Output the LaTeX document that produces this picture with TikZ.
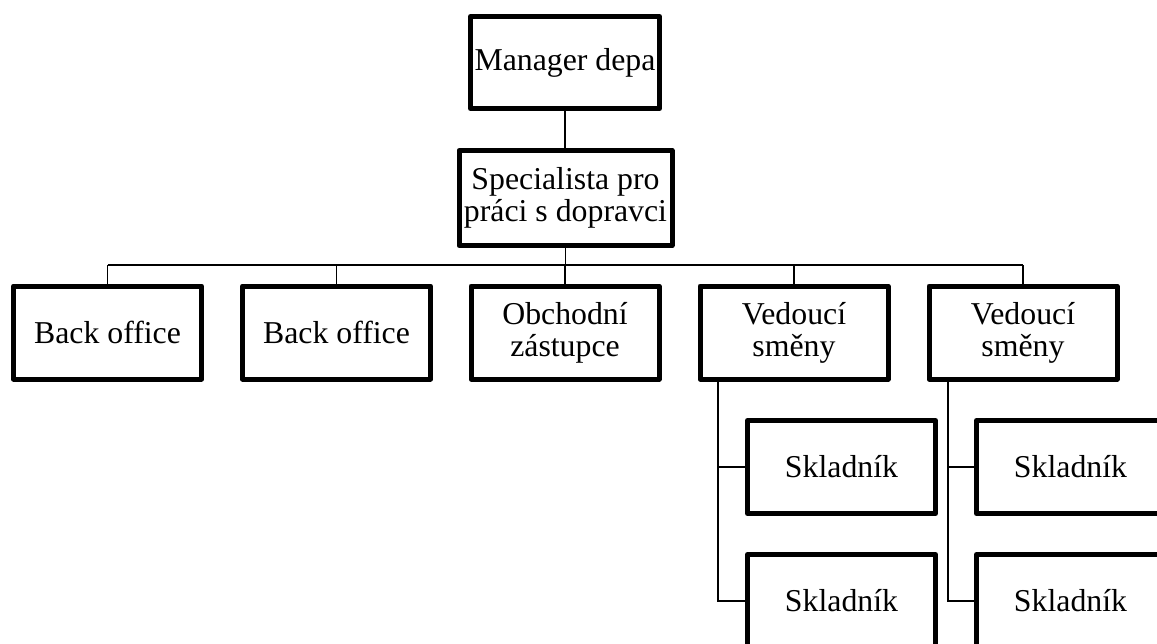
\documentclass[tikz,border=0pt]{standalone}
\usepackage{fontspec}
\setmainfont{Liberation Serif}
\begin{document}
\begin{tikzpicture}[x=1pt,y=-1pt,
  box/.style={draw=black, line width=5pt, line join=round, fill=white,
    minimum width=188pt, minimum height=93pt, inner sep=0pt, align=center,
    font=\fontsize{31.8}{32}\selectfont},
  link/.style={draw=black, line width=1.5pt}]
\useasboundingbox (0,0) rectangle (1157,643);
\clip (0,0) rectangle (1157,643);

% top of the chart
\node[box, minimum width=189pt, minimum height=92pt] (mgr) at (565,62.5) {Manager depa};
\node[box, minimum width=213pt, minimum height=95pt] (spec) at (565.5,198) {Specialista pro\\práci s dopravci};

% second level
\node[box] (back1) at (107.5,332.5) {Back office};
\node[box] (back2) at (336.5,332.5) {Back office};
\node[box] (obch)  at (565,332.5)   {Obchodní\\zástupce};
\node[box] (ved1)  at (794,332.5)   {Vedoucí\\směny};
\node[box] (ved2)  at (1023,332.5)  {Vedoucí\\směny};

% warehouse staff under each shift leader
\node[box] (s11) at (841.5,467)  {Skladník};
\node[box] (s12) at (841.5,601)  {Skladník};
\node[box] (s21) at (1070.5,467) {Skladník};
\node[box] (s22) at (1070.5,601) {Skladník};

% connectors
\coordinate (bus) at (0,265);
\coordinate (t1) at (718,0);
\coordinate (t2) at (948,0);

\draw[link] (mgr.south) -- (mgr.south |- spec.north);
\draw[link] (spec.south) -- (spec.south |- bus);
\draw[link] (back1.north |- bus) -- (ved2.north |- bus);
\foreach \n in {back1,back2,obch,ved1,ved2}
  \draw[link] (\n.north |- bus) -- (\n.north);

\draw[link] (ved1.south -| t1) -- (t1 |- s12.west) -- (s12.west);
\draw[link] (t1 |- s11.west) -- (s11.west);
\draw[link] (ved2.south -| t2) -- (t2 |- s22.west) -- (s22.west);
\draw[link] (t2 |- s21.west) -- (s21.west);
\end{tikzpicture}
\end{document}
